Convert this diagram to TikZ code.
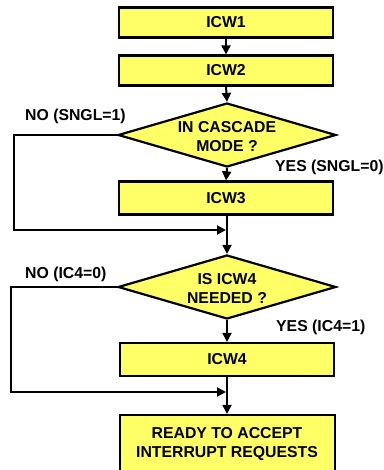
\documentclass[tikz,border=0pt]{standalone}
\usepackage{fontspec}
\setmainfont{Liberation Sans}
\usetikzlibrary{shapes.geometric,arrows.meta}
\definecolor{boxyellow}{RGB}{255,255,102}
\begin{document}
\begin{tikzpicture}[x=1pt,y=-1pt,
  every node/.style={font=\fontsize{15.8}{18.5}\selectfont\bfseries},
  stepbox/.style={draw=black,line width=2.2pt,fill=boxyellow,minimum width=214pt,inner sep=0pt},
  decision/.style={diamond,draw=black,line width=2.2pt,fill=boxyellow,minimum width=218pt,minimum height=64pt,inner sep=0pt},
  txt/.style={align=center,inner sep=0pt},
  lbl/.style={anchor=west,inner sep=0pt},
  conn/.style={line width=2pt,-{Triangle[length=9pt,width=9pt]}},
  plain/.style={line width=2pt}]
\useasboundingbox (0,0) rectangle (383,470);
\clip (0,0) rectangle (383,470);
\node[stepbox,minimum height=30pt] (icw1) at (226,22.5) {ICW1};
\node[stepbox,minimum height=30pt] (icw2) at (226,70.5) {ICW2};
\node[decision] (d1) at (227,135) {};
\node[txt] (d1t) at (227,136.5) {IN CASCADE\\MODE ?};
\node[stepbox,minimum height=33pt] (icw3) at (226,198) {ICW3};
\coordinate (m1) at (227,230);
\node[decision] (d2) at (227,287) {};
\node[txt] (d2t) at (227,288.5) {IS ICW4\\NEEDED ?};
\node[stepbox,minimum height=33pt] (icw4) at (227,359.5) {ICW4};
\coordinate (m2) at (227,392);
\node[stepbox,minimum width=215pt,minimum height=70pt] (ready) at (227.5,450) {};
\node[txt] (readyt) at (227,444) {READY TO ACCEPT\\INTERRUPT REQUESTS};
\node[lbl] (no1) at (25,116) {NO (SNGL=1)};
\node[lbl] (yes1) at (275,167) {YES (SNGL=0)};
\node[lbl] (no2) at (25,274) {NO (IC4=0)};
\node[lbl] (yes2) at (276,327) {YES (IC4=1)};
\draw[conn] (icw1.south) -- (icw2.north);
\draw[conn] (icw2.south) -- (d1.north);
\draw[conn] (d1.south) -- (icw3.north);
\draw[conn] (icw3.south -| d1.south) -- (d2.north);
\draw[conn,shorten >=1pt] (d1.west) -- (14,135) |- (m1);
\draw[conn] (d2.south) -- (icw4.north -| d2.south);
\draw[conn] (icw4.south -| d2.south) -- (ready.north -| d2.south);
\draw[conn,shorten >=1pt] (d2.west) -- (11,287) |- (m2);
\end{tikzpicture}
\end{document}
